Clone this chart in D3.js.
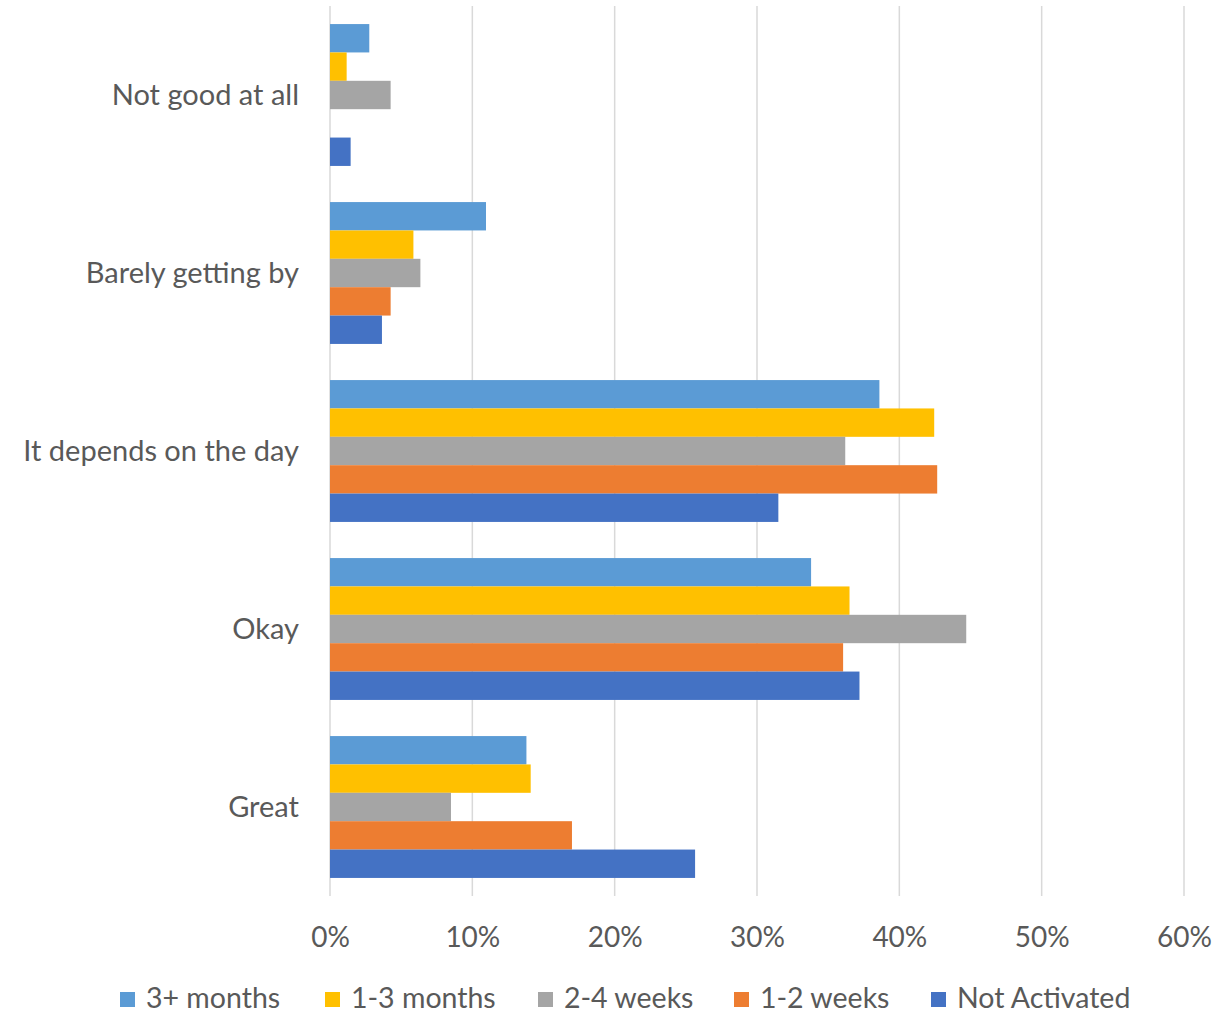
<!DOCTYPE html>
<html><head><meta charset="utf-8">
<script src="https://cdn.jsdelivr.net/npm/d3@7"></script>
<style>body{margin:0;background:#fff}svg{display:block}</style>
</head><body>
<svg id="chart" width="1224" height="1015"></svg>
<script>
const categories = ["Not good at all","Barely getting by","It depends on the day","Okay","Great"];
const seriesNames = ["3+ months","1-3 months","2-4 weeks","1-2 weeks","Not Activated"];
const seriesColors = ["#5B9BD5","#FFC000","#A5A5A5","#ED7D31","#4472C4"];
const months3plus   = [2.76, 10.96, 38.6, 33.8, 13.8];
const months1to3    = [1.17, 5.86, 42.45, 36.5, 14.1];
const weeks2to4     = [4.26, 6.35, 36.2, 44.7, 8.5];
const weeks1to2     = [0, 4.26, 42.66, 36.05, 17.0];
const notActivated  = [1.45, 3.65, 31.5, 37.2, 25.65];
const tickValues = [0,10,20,30,40,50,60];
const seriesValues = [months3plus, months1to3, weeks2to4, weeks1to2, notActivated];

const svg = d3.select("#chart");
const font = "Lato, 'Open Sans', sans-serif";
const textColor = "#595959";
const plotLeft = 330, plotRight = 1184, plotTop = 6, plotBottom = 896;

const x = d3.scaleLinear().domain([0,60]).range([plotLeft,plotRight]);
const y0 = d3.scaleBand().domain(categories).range([plotTop,plotBottom]).paddingInner(0.203).paddingOuter(0.1015);
const y1 = d3.scaleBand().domain(seriesNames).range([0,y0.bandwidth()]);

// gridlines
svg.append("g").selectAll("line").data(tickValues).join("line")
  .attr("x1",d=>x(d)).attr("x2",d=>x(d)).attr("y1",plotTop).attr("y2",plotBottom)
  .attr("stroke","#D9D9D9").attr("stroke-width",1.5);

// bars
const groups = svg.append("g").selectAll("g").data(categories).join("g")
  .attr("transform",c=>`translate(0,${y0(c)})`);
groups.selectAll("rect").data((c,i)=>seriesNames.map((s,j)=>({s,j,v:seriesValues[j][i]}))).join("rect")
  .attr("x",x(0)).attr("y",d=>y1(d.s)).attr("height",y1.bandwidth())
  .attr("width",d=>x(d.v)-x(0)).attr("fill",d=>seriesColors[d.j]);

// category labels
svg.append("g").selectAll("text").data(categories).join("text")
  .attr("x",299).attr("y",c=>y0(c)+y0.bandwidth()/2).attr("dy","0.34em")
  .attr("text-anchor","end").attr("font-family",font).attr("font-size",29).attr("fill",textColor)
  .text(c=>c);

// x axis labels
const xAxis = d3.axisBottom(x).tickValues(tickValues).tickFormat(d=>d+"%").tickSize(0).tickPadding(0);
const ax = svg.append("g").attr("transform",`translate(0,947)`).call(xAxis);
ax.select(".domain").remove();
ax.selectAll("text").attr("font-family",font).attr("font-size",28).attr("fill",textColor).attr("dy",0).attr("y",0);

// legend
const legendX = [120,325,538,734,931];
const lg = svg.append("g").selectAll("g").data(seriesNames).join("g")
  .attr("transform",(d,i)=>`translate(${legendX[i]},1008)`);
lg.append("rect").attr("x",0).attr("y",-16).attr("width",15).attr("height",15).attr("fill",(d,i)=>seriesColors[i]);
lg.append("text").attr("x",26).attr("y",0).attr("font-family",font).attr("font-size",28.5).attr("fill",textColor).text(d=>d);
</script>
</body></html>
